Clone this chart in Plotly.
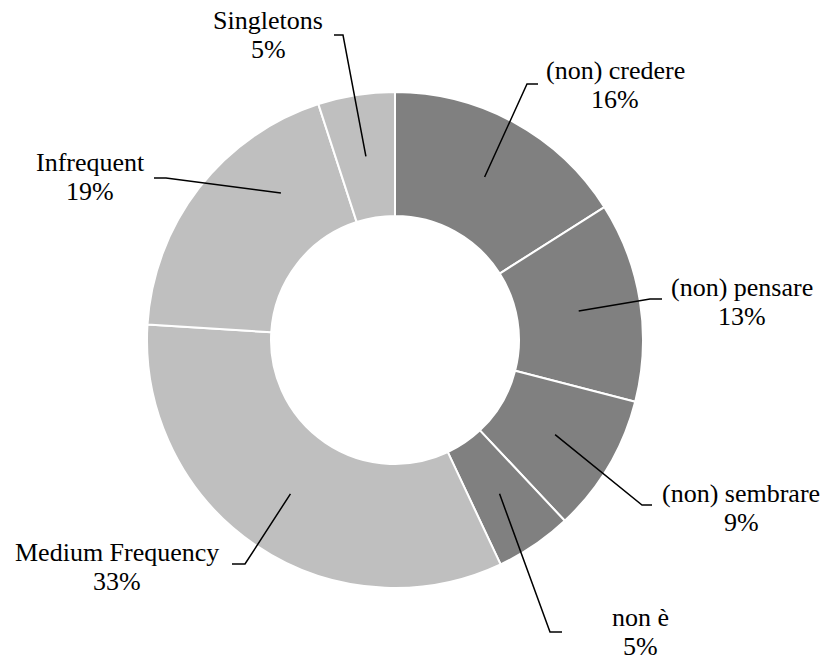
import math
import plotly.graph_objects as go

# Share of occurrences by category (percent), clockwise from 12 o'clock
categories = ["(non) credere", "(non) pensare", "(non) sembrare", "non è",
              "Medium Frequency", "Infrequent", "Singletons"]
shares = [16, 13, 9, 5, 33, 19, 5]
pct_labels = ["16%", "13%", "9%", "5%", "33%", "19%", "5%"]
slice_colors = ["#808080", "#808080", "#808080", "#808080",
                "#bfbfbf", "#bfbfbf", "#bfbfbf"]

# Canvas and ring geometry (pixels)
W, H = 827, 660
CX, CY = 395, 340
R_OUT = 248
HOLE = 0.5
FONT = "Liberation Serif"
FSIZE = 26
LINE_GAP = 29

# Callout layout: where the leader leaves the slice (fraction along the slice),
# the elbow point, the end of the short horizontal tail, and the text block
anchor_frac = [0.5, 0.5, 0.5, 0.5, 0.5, 0.71, 0.5]
elbow_xy = [(527, 84), (650, 299), (642, 505), (550, 632),
            (245, 564), (166, 178), (343, 35)]
tail_x = [538, 662, 652, 562, 232, 154, 334]
text_cx = [615, 742, 741, 640, 117, 90, 268]
text_base = [80, 297, 503, 627, 562, 172, 30]

fig = go.Figure()

fig.add_trace(go.Pie(
    labels=categories,
    values=shares,
    sort=False,
    direction="clockwise",
    rotation=0,
    hole=HOLE,
    marker=dict(colors=slice_colors, line=dict(color="white", width=2)),
    textinfo="none",
    hoverinfo="label+percent",
    showlegend=False,
    domain=dict(x=[(CX - R_OUT) / W, (CX + R_OUT) / W],
                y=[1 - (CY + R_OUT) / H, 1 - (CY - R_OUT) / H]),
))

# Leader lines: start in the middle of the ring at the slice's angle
total = sum(shares)
r_mid = R_OUT * (1 + HOLE) / 2
cum = 0
shapes = []
for i, v in enumerate(shares):
    ang = 2 * math.pi * (cum + anchor_frac[i] * v) / total
    cum += v
    sx = CX + r_mid * math.sin(ang)
    sy = CY - r_mid * math.cos(ang)
    ex, ey = elbow_xy[i]
    shapes.append(dict(
        type="path", xref="x", yref="y", layer="above",
        path=f"M {sx:.2f},{sy:.2f} L {ex},{ey} L {tail_x[i]},{ey}",
        line=dict(color="black", width=1.5),
    ))

# Two-line labels: category name, then its percentage
annotations = []
for i, name in enumerate(categories):
    for txt, base in ((name, text_base[i]), (pct_labels[i], text_base[i] + LINE_GAP)):
        annotations.append(dict(
            x=text_cx[i], y=base - 0.35 * FSIZE, xref="x", yref="y",
            text=txt, showarrow=False, xanchor="center", yanchor="middle",
            font=dict(family=FONT, size=FSIZE, color="black"),
        ))

fig.update_layout(
    width=W, height=H,
    margin=dict(l=0, r=0, t=0, b=0),
    font=dict(family=FONT, size=FSIZE, color="black"),
    paper_bgcolor="white", plot_bgcolor="rgba(0,0,0,0)",
    xaxis=dict(range=[0, W], visible=False, fixedrange=True),
    yaxis=dict(range=[H, 0], visible=False, fixedrange=True),
    shapes=shapes,
    annotations=annotations,
)

fig.write_html("out.html")
